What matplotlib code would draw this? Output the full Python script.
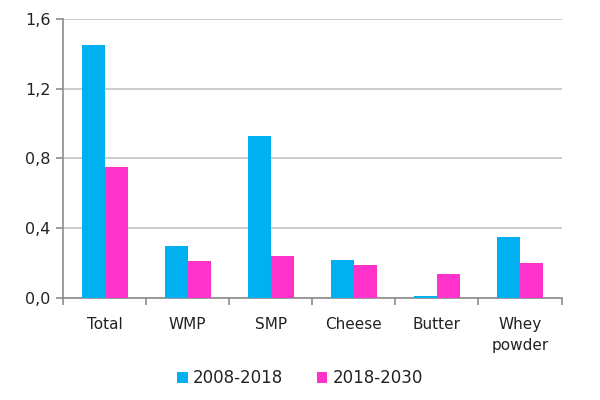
import matplotlib
matplotlib.use("Agg")
import matplotlib.pyplot as plt
import numpy as np

categories = ["Total", "WMP", "SMP", "Cheese", "Butter", "Whey\npowder"]
series_names = ["2008-2018", "2018-2030"]
values_2008_2018 = [1.45, 0.30, 0.93, 0.22, 0.01, 0.35]
values_2018_2030 = [0.75, 0.21, 0.24, 0.19, 0.14, 0.20]
y_ticks = [0.0, 0.4, 0.8, 1.2, 1.6]
y_tick_labels = ["0,0", "0,4", "0,8", "1,2", "1,6"]

colors = ["#00B0F0", "#FF33CC"]
grid_c = "#BFBFBF"
axis_c = "#8C8C8C"
text_c = "#222222"

plt.rcParams['font.family'] = ['DejaVu Sans']

fig = plt.figure(figsize=(6, 4), dpi=100)
ax = fig.add_axes([0.105, 0.255, 0.831, 0.698])

x = np.arange(len(categories))
w = 0.277
ax.bar(x - w/2, values_2008_2018, width=w, color=colors[0], label=series_names[0], zorder=3)
ax.bar(x + w/2, values_2018_2030, width=w, color=colors[1], label=series_names[1], zorder=3)

ax.set_xlim(-0.5, len(categories) - 0.5)
ax.set_ylim(0, 1.6)
ax.set_yticks(y_ticks)
ax.set_yticklabels(y_tick_labels, fontsize=11.5, color=text_c)
ax.yaxis.grid(True, color=grid_c, linewidth=1.1, zorder=0)
ax.set_axisbelow(True)

ax.set_xticks(x)
ax.set_xticklabels(categories, fontsize=11, color=text_c, linespacing=1.45, va="top")
ax.tick_params(axis='x', length=0, pad=14)
ax.set_xticks(np.arange(len(categories) + 1) - 0.5, minor=True)
ax.tick_params(axis='x', which='minor', length=5, color=axis_c, width=1.2)
ax.tick_params(axis='y', length=5, color=axis_c, width=1.2, pad=4)

for s in ["top", "right"]:
    ax.spines[s].set_visible(False)
for s in ["left", "bottom"]:
    ax.spines[s].set_color(axis_c)
    ax.spines[s].set_linewidth(1.2)

leg = fig.legend(loc="center", bbox_to_anchor=(0.5, 0.055), ncol=2, frameon=False,
                 fontsize=12, handlelength=0.65, handleheight=0.65, handletextpad=0.3,
                 columnspacing=2.0)
for t in leg.get_texts():
    t.set_color(text_c)

fig.savefig("out.png", dpi=100)
